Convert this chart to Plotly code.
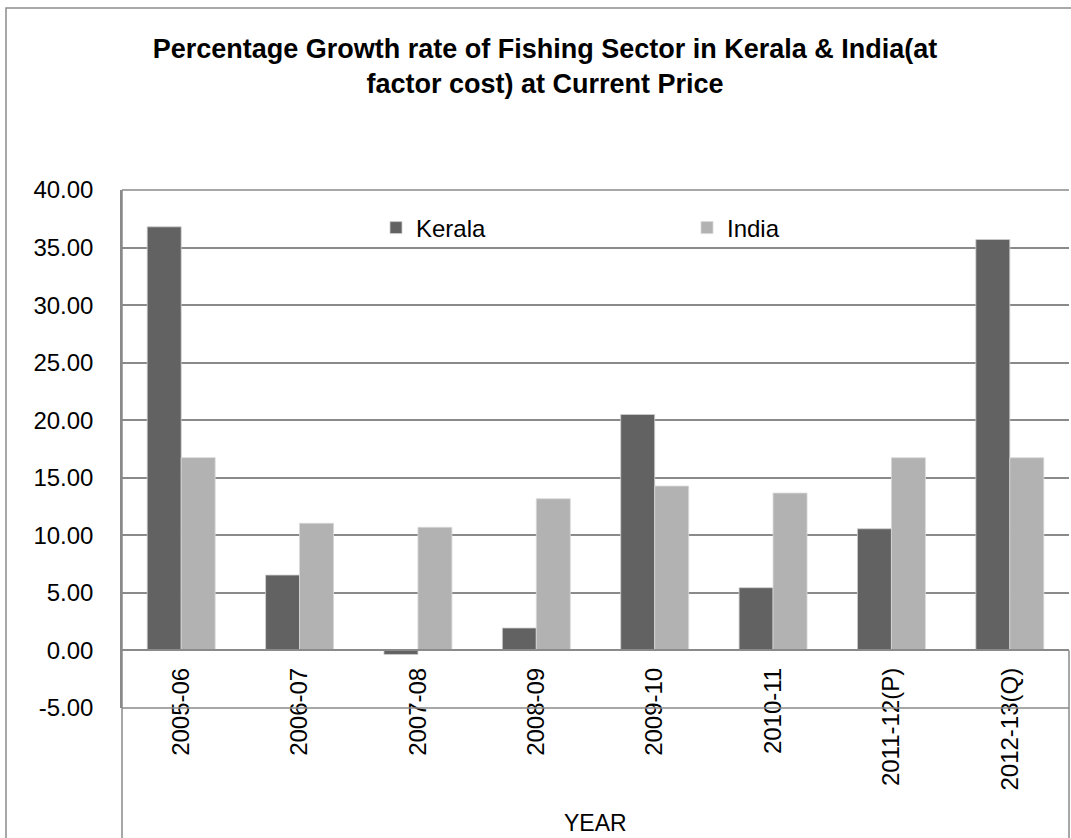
import plotly.graph_objects as go

# ---- data ----
categories = ["2005-06", "2006-07", "2007-08", "2008-09", "2009-10", "2010-11", "2011-12(P)", "2012-13(Q)"]
kerala = [36.8, 6.55, -0.35, 1.95, 20.5, 5.45, 10.57, 35.7]
india = [16.75, 11.05, 10.7, 13.18, 14.28, 13.67, 16.74, 16.74]
ytick_vals = [-5, 0, 5, 10, 15, 20, 25, 30, 35, 40]
ytick_text = ["-5.00", "0.00", "5.00", "10.00", "15.00", "20.00", "25.00", "30.00", "35.00", "40.00"]

W, H = 1071, 838
L, R, T, B = 122, 2, 190, 130
PW = W - L - R
PH = H - T - B
GRID = "#8a8a8a"
REG = "Liberation Sans, Arial, sans-serif"


def px_x(px):
    return (px - L) / PW


def px_y(py):
    return (H - B - py) / PH


fig = go.Figure()
fig.add_trace(go.Bar(name="Kerala", x=categories, y=kerala,
                     marker=dict(color="#626262", line=dict(color="#cfcfcf", width=0.8))))
fig.add_trace(go.Bar(name="India", x=categories, y=india,
                     marker=dict(color="#b2b2b2", line=dict(color="#d8d8d8", width=0.8))))

shapes = []
# outer chart border
shapes.append(dict(type="rect", xref="paper", yref="paper",
                   x0=px_x(6), x1=px_x(1090), y0=px_y(8), y1=px_y(860),
                   line=dict(color="#8c8c8c", width=1.5), fillcolor="rgba(0,0,0,0)", layer="below"))
# left frame line down to bottom
shapes.append(dict(type="line", xref="paper", yref="paper", x0=0, x1=0, y0=1, y1=px_y(845),
                   line=dict(color=GRID, width=1.5)))
# right frame line below zero
shapes.append(dict(type="line", xref="paper", yref="paper", x0=1, x1=1, y0=5 / 45, y1=px_y(845),
                   line=dict(color=GRID, width=1.5)))
# top and bottom gridlines
shapes.append(dict(type="line", xref="paper", yref="paper", x0=0, x1=1, y0=1, y1=1,
                   line=dict(color=GRID, width=1.5)))
shapes.append(dict(type="line", xref="paper", yref="paper", x0=0, x1=1, y0=0, y1=0,
                   line=dict(color=GRID, width=1.5)))

fig.update_layout(
    width=W, height=H,
    margin=dict(l=L, r=R, t=T, b=B, autoexpand=False),
    paper_bgcolor="white", plot_bgcolor="white",
    barmode="group", bargap=0.426, bargroupgap=0,
    title=dict(text="<b>Percentage Growth rate of Fishing Sector in Kerala & India(at<br>factor cost) at Current Price</b>",
               x=545 / W, xanchor="center", y=1 - 58 / H, yanchor="middle",
               font=dict(family=REG, size=27, color="black")),
    legend=dict(orientation="h", x=px_x(376), xanchor="left", y=px_y(228), yanchor="middle",
                font=dict(family=REG, size=24, color="black"),
                entrywidth=266, itemwidth=30, bgcolor="rgba(0,0,0,0)",
                traceorder="normal"),
    shapes=shapes,
    showlegend=True,
)

fig.update_yaxes(range=[-5, 40], tickvals=ytick_vals, ticktext=ytick_text,
                 showgrid=True, gridcolor=GRID, gridwidth=1.5, automargin=False,
                 zeroline=False, showline=True, linecolor=GRID, linewidth=1.5,
                 ticks="", ticklabelstandoff=22,
                 tickfont=dict(family=REG, size=24, color="black"))

fig.update_xaxes(type="category", anchor="free", position=5 / 45, showgrid=False, automargin=False,
                 showline=True, linecolor=GRID, linewidth=1.5,
                 ticks="", tickangle=-90, ticklabelstandoff=7,
                 tickfont=dict(family=REG, size=24, color="black"))

fig.add_annotation(text="YEAR", xref="paper", yref="paper", x=0.5, y=px_y(823),
                   showarrow=False, font=dict(family=REG, size=23, color="black"),
                   xanchor="center", yanchor="middle")

fig.write_html("out.html", config={"displayModeBar": False},
               post_script="document.body.style.margin='0';document.body.style.padding='0';")
